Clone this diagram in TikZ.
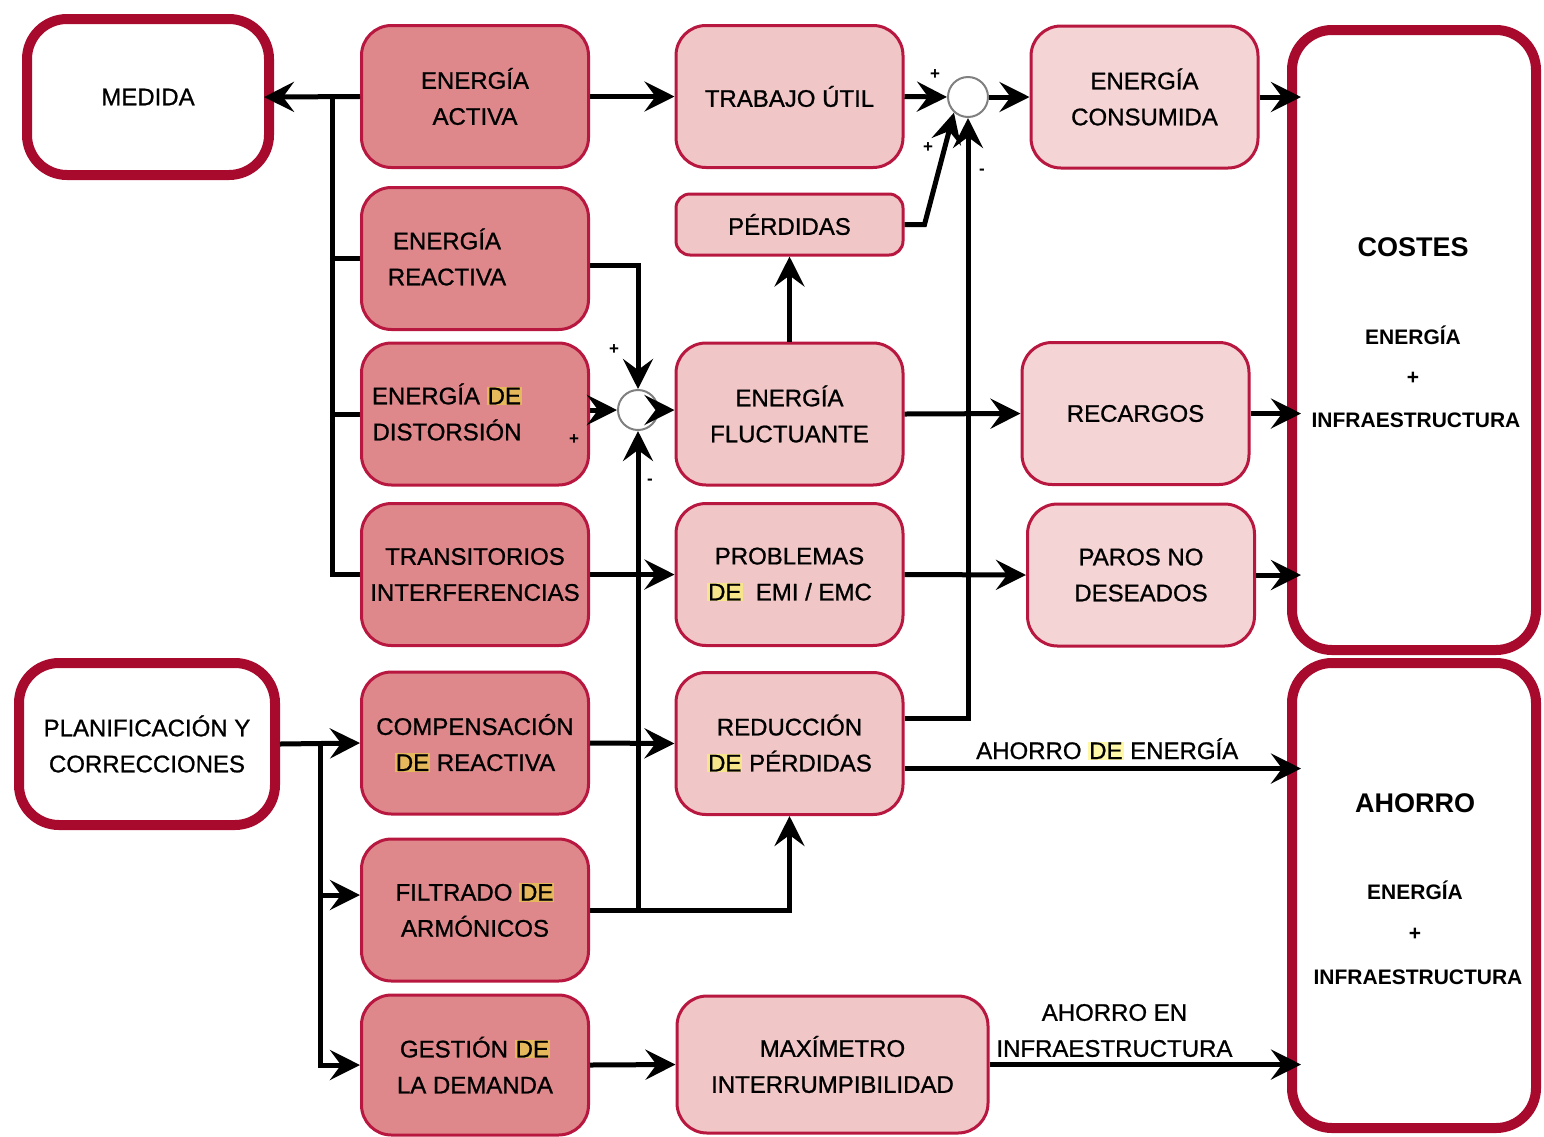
\documentclass[tikz,border=0pt]{standalone}
\usepackage{fontspec}
\setmainfont{Liberation Sans}
\newfontfamily\boxfont{Liberation Sans}[FakeBold=0.9]
\usetikzlibrary{arrows.meta}
\definecolor{dpink}{HTML}{DE888C}
\definecolor{lpink}{HTML}{F0C6C6}
\definecolor{vlpink}{HTML}{F4D4D4}
\definecolor{bred}{HTML}{B8173F}
\definecolor{thred}{HTML}{A80A2E}
\definecolor{hlgold}{HTML}{E6B85C}
\definecolor{hlyel}{HTML}{F6E58A}
\definecolor{hlpale}{HTML}{FFF8A8}
\newcommand{\hlDE}[1]{{\setlength{\fboxsep}{1pt}\colorbox{#1}{DE}}}
\begin{document}
\begin{tikzpicture}[x=1pt,y=-1pt,
  every node/.style={font=\boxfont\fontsize{24}{36}\selectfont, align=center, inner sep=1pt},
  dbox/.style={draw=bred, line width=3pt, fill=dpink, rounded corners=30pt, minimum width=227pt, minimum height=142pt},
  lbox/.style={dbox, fill=lpink},
  vbox/.style={dbox, fill=vlpink},
  wbox/.style={draw=thred, line width=10pt, fill=white, rounded corners=40pt},
  txt/.style={},
  ttl/.style={font=\fontsize{27}{30}\bfseries},
  sub/.style={font=\fontsize{21}{24}\bfseries},
  sum/.style={circle, draw=gray, line width=2pt, fill=white, minimum size=40pt, inner sep=0pt},
  sign/.style={font=\fontsize{17}{17}\bfseries},
  ln/.style={line width=5pt},
  arr/.style={line width=5pt, -{Stealth[length=30pt,width=30pt,inset=11pt]}},
  big/.style={shorten >=-14pt}
]
\useasboundingbox (0,0) rectangle (1544,1136);

% white boxes
\node[wbox, minimum width=242pt, minimum height=156pt] (med) at (148,97) {MEDIDA};
\node[wbox, minimum width=256pt, minimum height=162pt] (plan) at (147,744) {PLANIFICACIÓN Y\\CORRECCIONES};
\node[wbox, minimum width=244pt, minimum height=620pt] (cost) at (1414,340) {};
\node[wbox, minimum width=244pt, minimum height=465pt] (ahor) at (1414,895.5) {};
\node[ttl] (costt) at (1413,247) {COSTES};
\node[sub] (coste1) at (1413,335) {ENERGÍA};
\node[sub] (coste2) at (1413,378) {+};
\node[sub] (coste3) at (1416,420) {INFRAESTRUCTURA};
\node[ttl] (ahort) at (1415,803) {AHORRO};
\node[sub] (ahore1) at (1415,890) {ENERGÍA};
\node[sub] (ahore2) at (1415,934) {+};
\node[sub] (ahore3) at (1418,977) {INFRAESTRUCTURA};

% column 1
\node[dbox] (act) at (475,96.5) {ENERGÍA\\ACTIVA};
\node[dbox] (reac) at (475,258.5) {};
\node[txt] (reactxt) at (447,257) {ENERGÍA\\REACTIVA};
\node[dbox] (dist) at (475,414) {};
\node[txt] (disttxt) at (447,412) {ENERGÍA \hlDE{hlgold}\\DISTORSIÓN};
\node[dbox] (trans) at (475,574.5) {TRANSITORIOS\\INTERFERENCIAS};
\node[dbox] (comp) at (475,743) {COMPENSACIÓN\\\hlDE{hlgold} REACTIVA};
\node[dbox] (filt) at (475,910) {FILTRADO \hlDE{hlgold}\\ARMÓNICOS};
\node[dbox, minimum height=140pt] (gest) at (475,1065) {GESTIÓN \hlDE{hlgold}\\LA DEMANDA};

% column 2
\node[lbox] (trab) at (789.5,96.5) {TRABAJO ÚTIL};
\node[lbox, minimum height=61pt, rounded corners=14pt] (perd) at (789.5,224.5) {PÉRDIDAS};
\node[lbox] (fluc) at (789.5,414) {ENERGÍA\\FLUCTUANTE};
\node[lbox] (prob) at (789.5,574.5) {PROBLEMAS\\\hlDE{hlyel}~ EMI / EMC};
\node[lbox] (red) at (789.5,743.5) {REDUCCIÓN\\\hlDE{hlyel} PÉRDIDAS};
\node[lbox, minimum width=311pt, minimum height=137pt] (max) at (832.5,1064.5) {MAXÍMETRO\\INTERRUMPIBILIDAD};

% column 3
\node[vbox] (cons) at (1144.5,97) {ENERGÍA\\CONSUMIDA};
\node[vbox] (rec) at (1135.5,413.5) {RECARGOS};
\node[vbox] (paros) at (1141,575) {PAROS NO\\DESEADOS};

% summing junctions
\node[sum] (s1) at (968,97) {};
\node[sum] (s2) at (638,410) {};
\node[sign] (s1a) at (935,75) {+};
\node[sign] (s1b) at (928,148) {+};
\node[sign] (s1c) at (982,172) {-};
\node[sign] (s2a) at (614,350) {+};
\node[sign] (s2b) at (574,440) {+};
\node[sign] (s2c) at (650,482) {-};

% bus coordinates
\coordinate (b1) at (332,96.5);
\coordinate (b2) at (320,744);

% upper bus
\draw[arr, shorten >=-10pt] (act.west) -- (med.east);
\draw[ln] (b1) |- (trans.west);
\draw[ln] (b1 |- reac.west) -- (reac.west);
\draw[ln] (b1 |- dist.west) -- (dist.west);

% top row
\draw[arr] (act.east) -- (trab.west);
\draw[arr] (trab.east) -- (s1.west);
\draw[arr] (perd.east) -- ++(20,0) -- (s1.228);
\draw[arr] ([yshift=25pt]red.east) -| (s1.south);
\draw[arr] (s1.east) -- (cons.west |- s1.east);
\draw[arr, big] (cons.east) -- (cons.east -| cost.west);

% middle
\draw[arr] (fluc.north) -- (perd.south);
\draw[arr] ([yshift=-7pt]reac.east) -| (s2.north);
\draw[arr] (dist.east |- s2.west) -- (s2.west);
\draw[arr] (filt.east) -| (s2.south);
\draw[arr] (filt.east) -| (red.south);
\draw[arr] (s2.east) -- (fluc.west |- s2.east);
\draw[arr] (fluc.east) -- (rec.west);
\draw[arr, big] (rec.east) -- (rec.east -| cost.west);
\draw[arr] (trans.east) -- (prob.west);
\draw[arr] (prob.east) -- (paros.west);
\draw[arr, big] (paros.east) -- (paros.east -| cost.west);

% lower bus
\draw[arr] (plan.east) -- (comp.west);
\draw[arr] (b2) |- ([yshift=15pt]filt.west);
\draw[arr] (b2) |- (gest.west);

% savings
\draw[arr] (comp.east) -- (red.west);
\draw[arr, big] ([yshift=-25pt]red.east) coordinate (r1) -- (r1 -| ahor.west)
  node[pos=0.53, above=5pt] (lab1) {AHORRO \hlDE{hlpale} ENERGÍA};
\draw[arr, big] (max.east) -- (max.east -| ahor.west)
  node[pos=0.42, above=4pt] (lab2) {AHORRO EN\\INFRAESTRUCTURA};
\draw[arr] (gest.east) -- (max.west);
\end{tikzpicture}
\end{document}
